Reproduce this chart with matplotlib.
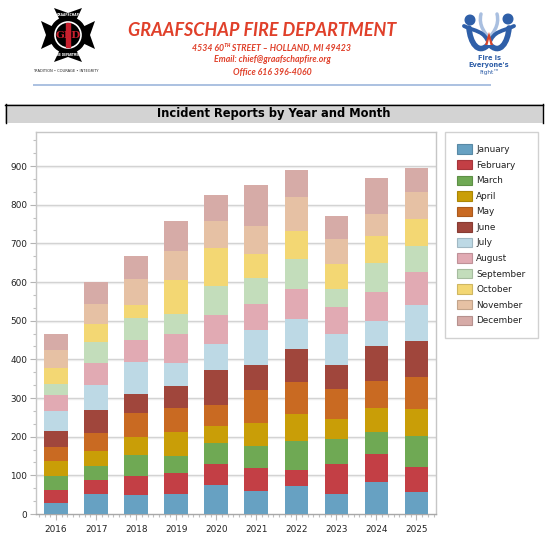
import numpy as np
import matplotlib.pyplot as plt
from matplotlib.patches import Rectangle, Polygon, Circle, Patch, PathPatch
from matplotlib.path import Path
from matplotlib.ticker import MultipleLocator

# data (incidents per month, stacked by year)
years = ['2016', '2017', '2018', '2019', '2020', '2021', '2022', '2023', '2024', '2025']
months = ['January', 'February', 'March', 'April', 'May', 'June', 'July',
          'August', 'September', 'October', 'November', 'December']
jan = [28, 51, 49, 53, 74, 59, 72, 51, 82, 56]
feb = [33, 36, 48, 54, 55, 59, 43, 78, 74, 65]
mar = [36, 36, 55, 42, 54, 57, 73, 64, 57, 80]
apr = [39, 39, 46, 62, 44, 60, 70, 52, 60, 70]
may = [36, 47, 64, 62, 55, 87, 83, 78, 70, 83]
jun = [42, 59, 49, 57, 91, 64, 85, 63, 91, 93]
jul = [52, 65, 83, 60, 66, 89, 78, 79, 64, 93]
aug = [41, 57, 57, 75, 75, 68, 77, 70, 75, 87]
sep = [29, 54, 56, 53, 75, 67, 78, 46, 75, 67]
octo = [41, 47, 34, 86, 98, 62, 72, 65, 70, 70]
nov = [46, 53, 68, 77, 72, 72, 88, 66, 59, 70]
dec = [42, 57, 59, 76, 67, 106, 72, 59, 93, 62]
series = [jan, feb, mar, apr, may, jun, jul, aug, sep, octo, nov, dec]

colors = ['#67a1c2', '#c33f45', '#6fa954', '#c99e07', '#c96a22', '#a0463c',
          '#bdd9e5', '#e1aab3', '#c3ddbb', '#f3d773', '#e6c1a4', '#d6aba7']

W, H = 546, 556
fig = plt.figure(figsize=(W / 100, H / 100), dpi=100)
fig.patch.set_facecolor('white')

# header drawn in pixel coordinates
hd = fig.add_axes([0, 0, 1, 1])
hd.set_xlim(0, W)
hd.set_ylim(H, 0)
hd.axis('off')

# left logo (rough fire cross)
cx, cy = 68, 35
for ang in [0, 90, 180, 270]:
    t = np.deg2rad(ang)
    pts = np.array([[-4, 6], [-14, 27], [0, 22], [14, 27], [4, 6]])
    rot = np.array([[np.cos(t), -np.sin(t)], [np.sin(t), np.cos(t)]])
    p = pts @ rot.T + [cx, cy]
    hd.add_patch(Polygon(p, closed=True, color='black', lw=0))
hd.add_patch(Circle((cx, cy), 18, color='black'))
hd.add_patch(Circle((cx, cy), 13, facecolor='black', edgecolor='white', lw=1.2))
hd.add_patch(Rectangle((cx - 1.8, cy - 12), 3.6, 24, color='#c8202e'))
hd.text(cx, cy + 0.5, 'GFD', color='#c8202e', fontsize=7.5, fontweight='bold',
        family='DejaVu Serif', ha='center', va='center')
hd.text(cx, cy - 20.5, 'GRAAFSCHAP', color='white', fontsize=2.2, fontweight='bold',
        ha='center', va='center')
hd.text(cx, cy + 20.5, 'FIRE DEPARTMENT', color='white', fontsize=2.0, fontweight='bold',
        ha='center', va='center')
hd.text(cx - 2, 71, 'TRADITION • COURAGE • INTEGRITY', fontsize=2.6, color='#222222',
        ha='center', va='center')

# right logo (figures and flame)
blue = '#2f5fa8'
lblue = '#a9bfe0'
for path_pts in ([(481, 14), (478, 26), (486, 34), (489, 38)],
                 [(497, 14), (500, 26), (492, 34), (489, 38)]):
    hd.add_patch(PathPatch(Path(path_pts, [Path.MOVETO, Path.CURVE4, Path.CURVE4, Path.CURVE4]),
                           fill=False, edgecolor=lblue, lw=2.5, capstyle='round'))
for path_pts in ([(469, 28), (470, 42), (478, 56), (489, 44)],
                 [(509, 28), (508, 42), (500, 56), (489, 44)]):
    hd.add_patch(PathPatch(Path(path_pts, [Path.MOVETO, Path.CURVE4, Path.CURVE4, Path.CURVE4]),
                           fill=False, edgecolor=blue, lw=4, capstyle='round'))
hd.add_patch(PathPatch(Path([(464, 26), (476, 32), (484, 30), (489, 44)],
                            [Path.MOVETO, Path.CURVE4, Path.CURVE4, Path.CURVE4]),
                       fill=False, edgecolor=blue, lw=2.8, capstyle='round'))
hd.add_patch(PathPatch(Path([(514, 26), (502, 32), (494, 30), (489, 44)],
                            [Path.MOVETO, Path.CURVE4, Path.CURVE4, Path.CURVE4]),
                       fill=False, edgecolor=blue, lw=2.8, capstyle='round'))
hd.add_patch(Circle((470, 20), 4.8, color=blue))
hd.add_patch(Circle((508, 19), 4.8, color=blue))
hd.add_patch(Polygon([(485, 45), (489, 32), (493, 45)], closed=True, color='#d8452b', lw=0))
hd.add_patch(Polygon([(487.5, 45), (489, 39), (490.5, 45)], closed=True, color='white', lw=0))
hd.text(489, 58, 'Fire is', color=blue, fontsize=4.8, fontweight='bold', ha='center', va='center')
hd.text(489, 65, "Everyone's", color=blue, fontsize=4.8, fontweight='bold', ha='center', va='center')
hd.text(489, 72, 'Fight™', color=blue, fontsize=4.2, ha='center', va='center')

# letterhead text
red = '#e0402a'
hd.text(262, 31, 'GRAAFSCHAP FIRE DEPARTMENT', color=red, fontsize=13,
        fontweight='bold', style='italic', family=['Lato', 'DejaVu Sans'],
        ha='center', va='center')
hd.text(272, 48, '4534 60ᵀᴴ STREET – HOLLAND, MI 49423', color=red, fontsize=6.3,
        fontweight='bold', style='italic', family=['Lato', 'DejaVu Sans'],
        ha='center', va='center')
hd.text(272, 60, 'Email: chief@graafschapfire.org', color=red, fontsize=6.3,
        fontweight='bold', style='italic', family=['Lato', 'DejaVu Sans'],
        ha='center', va='center')
hd.text(272, 72, 'Office 616 396-4060', color=red, fontsize=6.3,
        fontweight='bold', style='italic', family=['Lato', 'DejaVu Sans'],
        ha='center', va='center')
hd.plot([33, 491], [85, 85], color='#9db6dc', lw=1.2, solid_capstyle='butt')

# chart title bar
hd.add_patch(Rectangle((5, 104), 538, 19, facecolor='#d3d3d3', edgecolor='none'))
hd.plot([5, 543], [104.5, 104.5], color='black', lw=1)
hd.plot([5.5, 5.5], [104, 123], color='black', lw=1)
hd.plot([543, 543], [104, 123], color='black', lw=1)
hd.text(274, 114, 'Incident Reports by Year and Month', fontsize=8.3,
        fontweight='bold', ha='center', va='center', color='black')

# main chart
ax = fig.add_axes([36 / W, (H - 514) / H, 400.5 / W, (514 - 132) / H])
x = np.arange(len(years))
bottom = np.zeros(len(years))
for vals, col, name in zip(series, colors, months):
    ax.bar(x, vals, width=0.59, bottom=bottom, color=col, label=name, zorder=3)
    bottom += np.array(vals)

ax.set_xlim(-0.5, len(years) - 0.5)
ax.set_ylim(0, 988)
ax.set_xticks(x)
ax.set_xticklabels(years)
ax.xaxis.set_minor_locator(MultipleLocator(1 / 7))
ax.yaxis.set_major_locator(MultipleLocator(100))
ax.yaxis.set_minor_locator(MultipleLocator(100 / 3))

for yv in range(100, 1000, 100):
    ax.axhline(yv, color='#cdcdcd', lw=1.0, zorder=1)
    ax.axhline(yv - 2.4, color='#ececec', lw=1.0, zorder=1)

for s in ax.spines.values():
    s.set_color('#c6c6c6')
    s.set_linewidth(1.0)
ax.spines['bottom'].set_color('#a8a8a8')
ax.tick_params(axis='both', which='major', length=4, width=0.8, color='#b4b4b4',
               labelsize=6.4, labelcolor='#222222', pad=2.5)
ax.tick_params(axis='both', which='minor', length=2.5, width=0.8, color='#c0c0c0')
ax.tick_params(axis='x', which='major', pad=4)

handles = [Patch(facecolor=c, edgecolor=tuple(np.array(plt.matplotlib.colors.to_rgb(c)) * 0.85),
                 lw=0.8) for c in colors]
leg = fig.legend(handles, months, loc='upper left',
                 bbox_to_anchor=(445 / W, 1 - 132 / H), frameon=True, fancybox=False,
                 fontsize=6.4, handlelength=1.6, handleheight=1.25, handletextpad=0.5,
                 labelspacing=0.66, borderpad=1.4, borderaxespad=0)
leg.get_frame().set_edgecolor('#c6c6c6')
leg.get_frame().set_linewidth(1.0)
for t in leg.get_texts():
    t.set_color('#222222')

fig.savefig('out.png', dpi=100)
